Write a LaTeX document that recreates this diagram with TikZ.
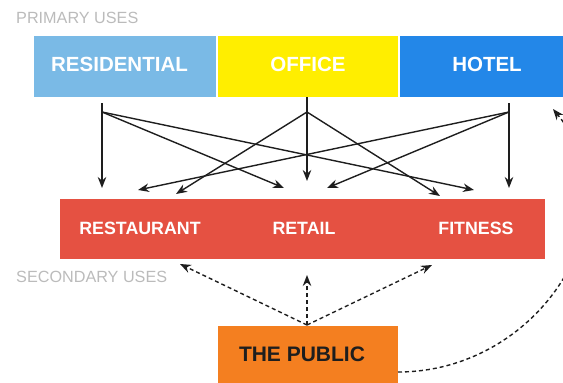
\documentclass[tikz,border=0pt]{standalone}
\usepackage{fontspec}
\setmainfont{Liberation Sans}
\usetikzlibrary{arrows.meta}
\definecolor{resblue}{HTML}{7ABAE6}
\definecolor{offyel}{HTML}{FFEE00}
\definecolor{hotblue}{HTML}{2387E8}
\definecolor{secred}{HTML}{E55142}
\definecolor{puborange}{HTML}{F47F20}
\definecolor{lbl}{HTML}{BBBBBB}
\definecolor{ink}{HTML}{1E1E1E}
\tikzset{
  box/.style={draw=none, inner sep=0pt, minimum height=61pt},
  toplbl/.style={text=white, font=\fontsize{20.5}{24}\selectfont\bfseries},
  seclbl/.style={text=white, font=\fontsize{17.8}{21}\selectfont\bfseries},
  grp/.style={text=lbl, font=\fontsize{16.2}{19}\selectfont, anchor=west, inner sep=0pt},
  arr/.style={draw=ink, line width=1.4pt, -{Stealth[length=11pt,width=8.5pt]}},
  darr/.style={draw=ink, line width=1.4pt, dash pattern=on 4pt off 3pt, -{Stealth[length=11pt,width=8.5pt]}},
}
\begin{document}
\begin{tikzpicture}[x=1pt,y=-1pt]
\useasboundingbox (0,0) rectangle (563,383);
% group labels
\node[grp] (prim) at (16,18) {PRIMARY USES};
\node[grp] (sec) at (16,277) {SECONDARY USES};
% primary boxes
\node[box, fill=resblue, minimum width=182pt] (res) at (125,66.5) {};
\node[box, fill=offyel, minimum width=180pt] (off) at (308,66.5) {};
\node[box, fill=hotblue, minimum width=170pt] (hot) at (485,66.5) {};
\node[toplbl] (reslbl) at (119.5,64) {RESIDENTIAL};
\node[toplbl] (offlbl) at (308,64) {OFFICE};
\node[toplbl] (hotlbl) at (487,64) {HOTEL};
% secondary
\node[box, fill=secred, minimum width=485pt, minimum height=60pt] (secbox) at (302.5,229) {};
\node[seclbl] (rest) at (140,228) {RESTAURANT};
\node[seclbl] (ret) at (304,228) {RETAIL};
\node[seclbl] (fit) at (476,228) {FITNESS};
% public
\node[box, fill=puborange, minimum width=180pt, minimum height=64pt] (pub) at (308,358) {};
\node[text=ink, font=\fontsize{21}{24}\selectfont\bfseries] (publbl) at (302,354) {THE PUBLIC};
% coordinates
\coordinate (rs) at (102,103);
\coordinate (rb) at (102,112);
\coordinate (os) at (307,97);
\coordinate (ob) at (307,112);
\coordinate (hs) at (509,103);
\coordinate (hb) at (509,112);
\coordinate (t1) at (102,188);
\coordinate (t2) at (284,188);
\coordinate (t3) at (474,190);
\coordinate (t4) at (307,181);
\coordinate (t5) at (176,194);
\coordinate (t6) at (440,196);
\coordinate (t7) at (509,188);
\coordinate (t8) at (138,190);
\coordinate (t9) at (327,188);
% primary arrows
\draw[arr] (rs) -- (t1);
\draw[arr] (rb) -- (t2);
\draw[arr] (rb) -- (t3);
\draw[arr] (os) -- (t4);
\draw[arr] (ob) -- (t5);
\draw[arr] (ob) -- (t6);
\draw[arr] (hs) -- (t7);
\draw[arr] (hb) -- (t8);
\draw[arr] (hb) -- (t9);
% public arrows
\coordinate (pa) at (307,325);
\coordinate (d1) at (180,264);
\coordinate (d2) at (307,275);
\coordinate (d3) at (432,265);
\draw[darr] (pa) -- (d1);
\draw[darr] (pa) -- (d2);
\draw[darr] (pa) -- (d3);
\coordinate (ps) at (398,372);
\coordinate (he) at (553,109);
\draw[darr] (ps) .. controls (540,372) and (640,215) .. (he);
\end{tikzpicture}
\end{document}
